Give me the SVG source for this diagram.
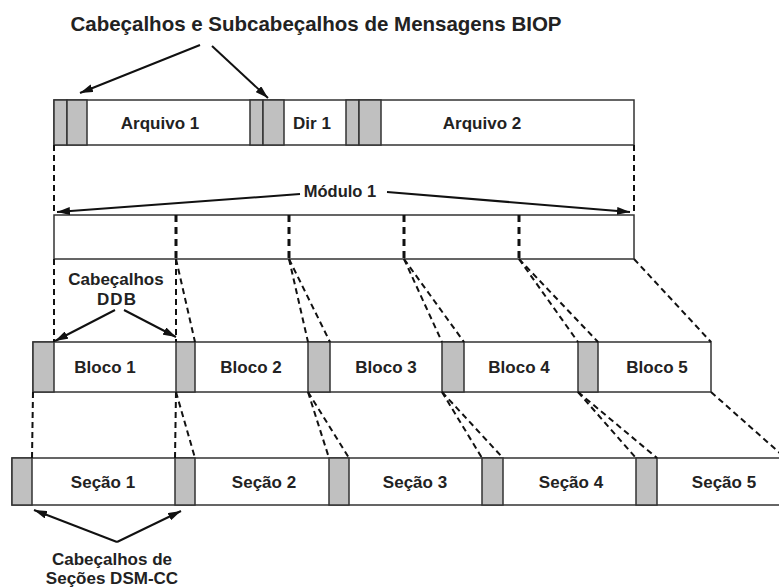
<svg xmlns="http://www.w3.org/2000/svg" width="779" height="588" viewBox="0 0 779 588">
<defs>
<style>
.box{fill:#fff;stroke:#333;stroke-width:1.5}
.hdr{fill:#c0c0c0;stroke:#333;stroke-width:1.5}
.lbl{font-family:"Liberation Sans",Arial,sans-serif;font-weight:bold;font-size:17px;fill:#222;text-anchor:middle}
.dash{stroke:#111;stroke-width:2;stroke-dasharray:6,4;fill:none}
.div{stroke:#111;stroke-width:3;stroke-dasharray:7,5;fill:none}
.arr{stroke:#111;stroke-width:2;fill:none;marker-end:url(#ah)}
</style>
<marker id="ah" markerUnits="userSpaceOnUse" markerWidth="13" markerHeight="8" refX="13" refY="4" orient="auto">
<path d="M0,0 L13,4 L0,8 z" fill="#111"/>
</marker>
</defs>
<rect width="779" height="588" fill="#fff"/>

<g id="title">
<text class="lbl" x="316" y="31" style="font-size:20.5px">Cabeçalhos e Subcabeçalhos de Mensagens BIOP</text>
</g>

<g id="biop-row">
<rect class="box" x="54" y="100" width="580" height="45"/>
<rect class="hdr" x="54" y="100" width="13" height="45"/>
<rect class="hdr" x="67" y="100" width="20" height="45"/>
<rect class="hdr" x="250" y="100" width="13" height="45"/>
<rect class="hdr" x="263" y="100" width="21" height="45"/>
<rect class="hdr" x="346" y="100" width="13" height="45"/>
<rect class="hdr" x="359" y="100" width="22" height="45"/>
<text class="lbl" x="160" y="129">Arquivo 1</text>
<text class="lbl" x="312" y="129">Dir 1</text>
<text class="lbl" x="482" y="129">Arquivo 2</text>
</g>

<g id="modulo-label">
<text class="lbl" x="340" y="197" style="font-size:16.5px">Módulo 1</text>
</g>

<g id="modulo-row">
<rect class="box" x="54" y="215" width="580" height="44"/>
<line class="div" x1="176" y1="215" x2="176" y2="259"/>
<line class="div" x1="289" y1="215" x2="289" y2="259"/>
<line class="div" x1="404" y1="215" x2="404" y2="259"/>
<line class="div" x1="519" y1="215" x2="519" y2="259"/>
</g>

<g id="ddb-label">
<text class="lbl" x="116" y="285">Cabeçalhos</text>
<text class="lbl" x="117" y="305" letter-spacing="1">DDB</text>
</g>

<g id="bloco-row">
<rect class="box" x="33" y="342" width="678" height="50"/>
<rect class="hdr" x="33" y="342" width="21" height="50"/>
<rect class="hdr" x="176" y="342" width="19" height="50"/>
<rect class="hdr" x="308" y="342" width="22" height="50"/>
<rect class="hdr" x="442" y="342" width="22" height="50"/>
<rect class="hdr" x="578" y="342" width="20" height="50"/>
<text class="lbl" x="105" y="373">Bloco 1</text>
<text class="lbl" x="251" y="373">Bloco 2</text>
<text class="lbl" x="386" y="373">Bloco 3</text>
<text class="lbl" x="519" y="373">Bloco 4</text>
<text class="lbl" x="657" y="373">Bloco 5</text>
</g>

<g id="secao-row">
<rect class="box" x="12" y="458" width="790" height="47"/>
<rect class="hdr" x="12" y="458" width="20" height="47"/>
<rect class="hdr" x="175" y="458" width="20" height="47"/>
<rect class="hdr" x="329" y="458" width="20" height="47"/>
<rect class="hdr" x="482" y="458" width="21" height="47"/>
<rect class="hdr" x="636" y="458" width="21" height="47"/>
<text class="lbl" x="103" y="488">Seção 1</text>
<text class="lbl" x="264" y="488">Seção 2</text>
<text class="lbl" x="415" y="488">Seção 3</text>
<text class="lbl" x="571" y="488">Seção 4</text>
<text class="lbl" x="724" y="488">Seção 5</text>
</g>

<g id="dsmcc-label">
<text class="lbl" x="112" y="565">Cabeçalhos de</text>
<text class="lbl" x="112" y="584">Seções DSM-CC</text>
</g>

<g id="connectors">
<line class="arr" x1="200" y1="45" x2="80" y2="93"/>
<line class="arr" x1="212" y1="46" x2="268" y2="98"/>
<line class="arr" x1="300" y1="194" x2="57" y2="212"/>
<line class="arr" x1="387" y1="192" x2="630" y2="212"/>
<line class="arr" x1="115" y1="310" x2="55" y2="341"/>
<line class="arr" x1="124" y1="310" x2="176" y2="337"/>
<line class="arr" x1="117" y1="542" x2="34" y2="510"/>
<line class="arr" x1="117" y1="542" x2="181" y2="511"/>

<line class="dash" x1="54" y1="145" x2="54" y2="215"/>
<line class="dash" x1="634" y1="145" x2="634" y2="215"/>

<line class="dash" x1="54" y1="259" x2="54" y2="342"/>
<line class="dash" x1="176" y1="259" x2="176" y2="342"/>
<line class="dash" x1="176" y1="259" x2="195" y2="342"/>
<line class="dash" x1="289" y1="259" x2="308" y2="342"/>
<line class="dash" x1="289" y1="259" x2="330" y2="342"/>
<line class="dash" x1="404" y1="259" x2="442" y2="342"/>
<line class="dash" x1="404" y1="259" x2="464" y2="342"/>
<line class="dash" x1="519" y1="259" x2="578" y2="342"/>
<line class="dash" x1="519" y1="259" x2="598" y2="342"/>
<line class="dash" x1="634" y1="259" x2="711" y2="342"/>

<line class="dash" x1="33" y1="392" x2="32" y2="458"/>
<line class="dash" x1="176" y1="392" x2="175" y2="458"/>
<line class="dash" x1="176" y1="392" x2="195" y2="458"/>
<line class="dash" x1="308" y1="392" x2="329" y2="458"/>
<line class="dash" x1="308" y1="392" x2="349" y2="458"/>
<line class="dash" x1="442" y1="392" x2="482" y2="458"/>
<line class="dash" x1="442" y1="392" x2="503" y2="458"/>
<line class="dash" x1="578" y1="392" x2="636" y2="458"/>
<line class="dash" x1="578" y1="392" x2="657" y2="458"/>
<line class="dash" x1="711" y1="392" x2="782" y2="455"/>
</g>
</svg>
